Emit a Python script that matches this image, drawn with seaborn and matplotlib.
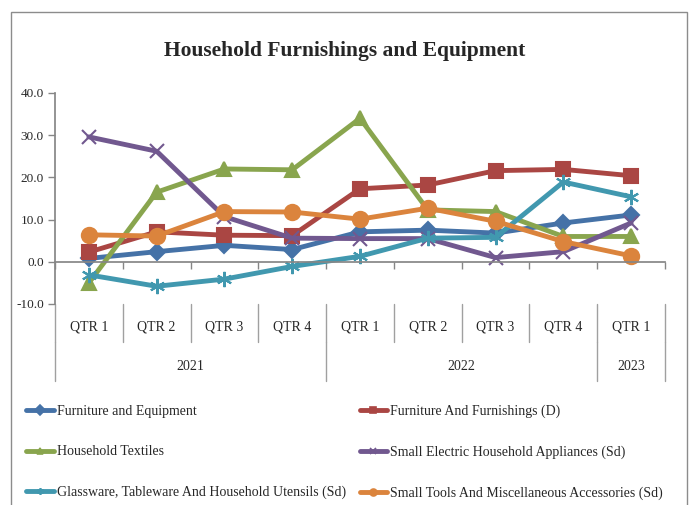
import pandas as pd
import seaborn as sns
import matplotlib.pyplot as plt
from matplotlib.patches import Rectangle
from matplotlib.lines import Line2D

quarters = ["QTR 1", "QTR 2", "QTR 3", "QTR 4", "QTR 1", "QTR 2", "QTR 3", "QTR 4", "QTR 1"]
years = ["2021", "2022", "2023"]
year_spans = [4, 4, 1]

furniture_equipment = [0.8, 2.4, 3.9, 2.9, 7.1, 7.5, 6.8, 9.2, 11.1]
furniture_furnishings = [2.3, 7.1, 6.3, 6.2, 17.3, 18.2, 21.6, 21.9, 20.4]
household_textiles = [-5.0, 16.5, 22.0, 21.8, 34.0, 12.3, 11.9, 6.0, 6.0]
small_electric = [29.6, 26.2, 10.7, 5.6, 5.5, 5.5, 1.0, 2.4, 9.2]
glassware = [-3.1, -5.8, -4.1, -1.1, 1.3, 5.6, 5.8, 18.9, 15.4]
small_tools = [6.4, 6.1, 11.9, 11.8, 10.1, 12.7, 9.6, 4.8, 1.4]

series = {
    "Furniture and Equipment": furniture_equipment,
    "Furniture And Furnishings (D)": furniture_furnishings,
    "Household Textiles": household_textiles,
    "Small Electric Household Appliances (Sd)": small_electric,
    "Glassware, Tableware And Household Utensils (Sd)": glassware,
    "Small Tools And Miscellaneous Accessories (Sd)": small_tools,
}
colors = ["#4572A7", "#AA4643", "#89A54E", "#71588F", "#4198AF", "#DB843D"]
markers = ["D", "s", "^", "x", (6, 2, 0), "o"]
msizes = [8, 10, 10, 10, 11, 11]

rows = []
for name, vals in series.items():
    for i, v in enumerate(vals):
        rows.append({"Series": name, "idx": i, "Value": v})
df = pd.DataFrame(rows)

sns.set_theme(style="white")
plt.rcParams["font.family"] = ["Liberation Serif", "DejaVu Serif"]

fig = plt.figure(figsize=(6.93, 5.05), dpi=100)
ax = fig.add_axes([55 / 693, 1 - 304 / 505, 610 / 693, 211 / 505])

for (name, _), c, m, ms in zip(series.items(), colors, markers, msizes):
    sns.lineplot(data=df[df["Series"] == name], x="idx", y="Value", ax=ax,
                 color=c, marker=m, markersize=ms, linewidth=3.5,
                 markeredgecolor=c, markeredgewidth=1.5, legend=False)

ax.set_xlim(-0.5, 8.5)
ax.set_ylim(-10, 40)
ax.set_yticks([-10, 0, 10, 20, 30, 40])
ax.set_yticklabels([f"{t:.1f}" for t in [-10, 0, 10, 20, 30, 40]], fontsize=9.5)
ax.set_xticks([i - 0.5 for i in range(10)])
ax.set_xticklabels([])
ax.set_xlabel("")
ax.set_ylabel("")
for s in ["top", "right"]:
    ax.spines[s].set_visible(False)
ax.spines["bottom"].set_position(("data", 0))
ax.spines["bottom"].set_color("#868686")
ax.spines["left"].set_color("#868686")
ax.tick_params(axis="x", direction="out", length=5, color="#868686", width=1, bottom=True)
ax.tick_params(axis="y", direction="out", length=5, color="#868686", width=1, left=True, pad=3)

# hierarchical category axis
tr = ax.get_xaxis_transform()
q_top, q_bot, y_bot = 0.0, -38 / 211, -77 / 211
for i in range(10):
    x = i - 0.5
    ax.plot([x, x], [q_top, q_bot], transform=tr, color="#A0A0A0", lw=1, clip_on=False)
for i, q in enumerate(quarters):
    ax.text(i, -23 / 211, q, transform=tr, ha="center", va="center", fontsize=10)
start = 0
for yr, span in zip(years, year_spans):
    ax.plot([start - 0.5, start - 0.5], [q_bot, y_bot], transform=tr, color="#A0A0A0", lw=1, clip_on=False)
    ax.text(start - 0.5 + span / 2, -63 / 211, yr, transform=tr, ha="center", va="center", fontsize=10)
    start += span
ax.plot([8.5, 8.5], [q_bot, y_bot], transform=tr, color="#A0A0A0", lw=1, clip_on=False)

fig.text(0.498, 1 - 51 / 505, "Household Furnishings and Equipment", ha="center", va="center",
         fontsize=15.5, fontweight="bold")

handles = [Line2D([0], [0], color=c, marker=m, markersize=5, linewidth=3.5,
                  markeredgecolor=c, markeredgewidth=1.2)
           for c, m in zip(colors, markers)]
names = list(series.keys())
order = [0, 2, 4, 1, 3, 5]
fig.legend([handles[i] for i in order], [names[i] for i in order], ncol=2,
           loc="upper left", bbox_to_anchor=(26 / 693, 1 - 405 / 505), frameon=False,
           fontsize=10, handlelength=2.0, handletextpad=0.2, columnspacing=1.0,
           labelspacing=1.95, borderaxespad=0, borderpad=0)

fig.patches.append(Rectangle((11 / 693, -0.1), 676 / 693, 1.1 - 12 / 505, transform=fig.transFigure,
                             fill=False, edgecolor="#8C8C8C", lw=1))

fig.savefig("out.png", dpi=100)
